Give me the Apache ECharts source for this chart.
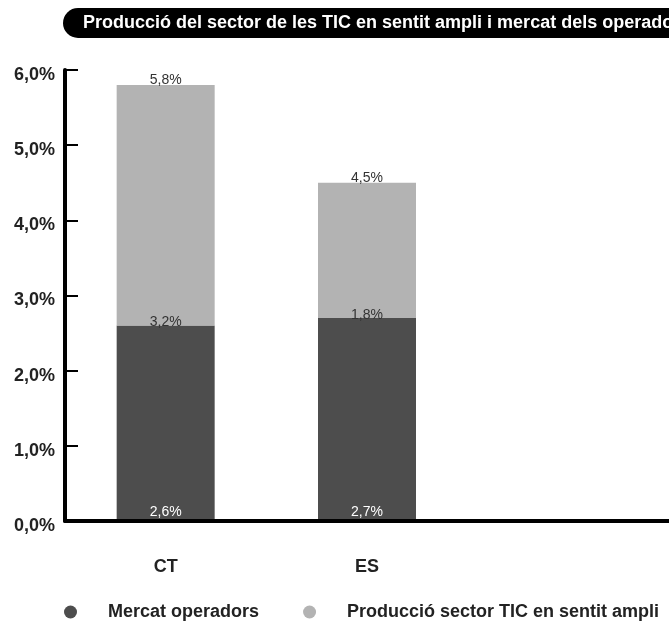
<!DOCTYPE html>
<html>
<head>
<meta charset="utf-8">
<script src="https://cdn.jsdelivr.net/npm/echarts@6/dist/echarts.min.js"></script>
<style>
  html, body { margin: 0; padding: 0; background: #fff; }
  #main { width: 669px; height: 623px; }
</style>
</head>
<body>
<div id="main"></div>
<script>
// dades
var categories = ["CT", "ES", ""];
var mercat = [2.6, 2.7];       // Mercat operadors
var produccio = [3.2, 1.8];    // Producció sector TIC en sentit ampli
var totals = [5.8, 4.5];
var yTicks = [0, 1, 2, 3, 4, 5, 6];

var font = "Liberation Sans";

function pct(v) {
  return Number(v).toFixed(1).replace(".", ",") + "%";
}

var myChart = echarts.init(document.getElementById("main"));
var option = {
  animation: false,
  title: {
    text: "Producció del sector de les TIC en sentit ampli i mercat dels operadors de telecomunicacions",
    left: 63,
    top: 8,
    backgroundColor: "#000",
    borderRadius: [15, 0, 0, 15],
    padding: [6, 200, 6, 20],
    textStyle: {
      color: "#fff",
      fontSize: 18,
      fontWeight: "bold",
      fontFamily: font,
      lineHeight: 18
    }
  },
  legend: {
    data: ["Mercat operadors", "Producció sector TIC en sentit ampli"],
    left: 64,
    top: 603,
    width: 640,
    padding: 0,
    icon: "circle",
    itemWidth: 13,
    itemHeight: 13,
    itemGap: 44,
    textStyle: {
      color: "#222",
      fontSize: 18,
      fontWeight: "bold",
      fontFamily: font,
      padding: [0, 0, 0, 26]
    }
  },
  grid: {
    left: 65,
    right: 0,
    top: 70,
    bottom: 102
  },
  xAxis: {
    type: "category",
    data: categories,
    z: 10,
    axisLine: { lineStyle: { color: "#000", width: 4 } },
    axisTick: { inside: true, length: 10, lineStyle: { color: "#000", width: 2 } },
    axisLabel: {
      margin: 37,
      color: "#222",
      fontSize: 18,
      fontWeight: "bold",
      fontFamily: font
    }
  },
  yAxis: {
    type: "value",
    min: yTicks[0],
    max: yTicks[yTicks.length - 1],
    interval: 1,
    z: 10,
    axisLine: { show: true, lineStyle: { color: "#000", width: 4 } },
    axisTick: { show: true, inside: true, length: 13, lineStyle: { color: "#000", width: 2 } },
    splitLine: { show: false },
    axisLabel: {
      margin: 10,
      formatter: function (v) { return "{a|" + pct(v) + "}"; },
      rich: {
        a: {
          padding: [10, 0, 0, 0],
          color: "#222",
          fontSize: 18,
          fontWeight: "bold",
          fontFamily: font
        }
      }
    }
  },
  series: [
    {
      name: "Mercat operadors",
      type: "bar",
      stack: "a",
      barWidth: 98,
      data: mercat,
      itemStyle: { color: "#4d4d4d" },
      label: {
        show: true,
        position: "insideBottom",
        distance: 2,
        color: "#fff",
        fontSize: 14,
        fontFamily: font,
        formatter: function (p) { return pct(p.value); }
      }
    },
    {
      name: "Producció sector TIC en sentit ampli",
      type: "bar",
      stack: "a",
      barWidth: 98,
      data: produccio,
      itemStyle: { color: "#b3b3b3" },
      label: {
        show: true,
        position: "insideBottom",
        distance: -4,
        color: "#333",
        fontSize: 14,
        fontFamily: font,
        formatter: function (p) { return pct(p.value); }
      }
    },
    {
      // etiqueta del total a dalt de la barra
      name: "total",
      type: "bar",
      stack: "a",
      barWidth: 98,
      data: [0, 0],
      itemStyle: { color: "transparent" },
      label: {
        show: true,
        position: "top",
        distance: -2,
        color: "#333",
        fontSize: 14,
        fontFamily: font,
        formatter: function (p) { return pct(totals[p.dataIndex]); }
      }
    }
  ]
};
myChart.setOption(option);
</script>
</body>
</html>
